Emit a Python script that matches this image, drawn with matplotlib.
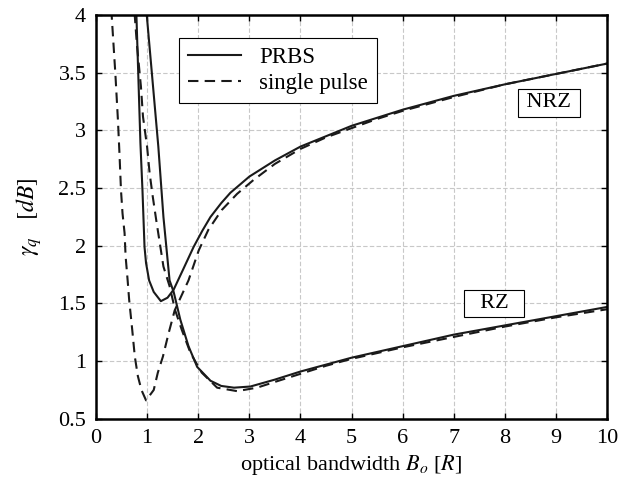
import numpy as np
import matplotlib
matplotlib.use("Agg")
import matplotlib.pyplot as plt

plt.rcParams['font.family'] = ['Liberation Serif', 'DejaVu Serif']
plt.rcParams['mathtext.fontset'] = 'stix'
plt.rcParams['font.size'] = 16

# NRZ, PRBS (solid)
nrz_prbs_b = [0.79, 0.87, 0.91, 0.95, 0.98, 1.04, 1.13, 1.27, 1.40, 1.52, 1.70, 1.91, 2.08, 2.24,
              2.45, 2.63, 3.0, 3.5, 4.0, 4.5, 5.0, 5.5, 6.0, 7.0, 7.5, 8.0, 9.0, 10.0]
nrz_prbs_g = [4.02, 2.89, 2.48, 1.99, 1.85, 1.70, 1.60, 1.52, 1.55, 1.62, 1.79, 1.99, 2.13, 2.25,
              2.37, 2.46, 2.60, 2.74, 2.86, 2.95, 3.04, 3.11, 3.18, 3.30, 3.35, 3.40, 3.49, 3.58]

# NRZ, single pulse (dashed)
nrz_sp_b = [0.30, 0.38, 0.43, 0.46, 0.49, 0.52, 0.56, 0.58, 0.62, 0.65, 0.71, 0.76, 0.82, 0.89,
            0.98, 1.13, 1.21, 1.31, 1.42, 1.54, 1.81, 2.01, 2.20, 2.46, 2.76, 3.08, 3.5, 4.0,
            4.5, 5.0, 5.5, 6.0, 7.0, 8.0, 9.0, 10.0]
nrz_sp_g = [4.05, 3.49, 3.09, 2.80, 2.48, 2.28, 2.11, 1.91, 1.70, 1.53, 1.27, 1.04, 0.87, 0.75,
            0.66, 0.75, 0.90, 1.04, 1.24, 1.44, 1.70, 1.96, 2.14, 2.31, 2.45, 2.57, 2.71, 2.84,
            2.94, 3.02, 3.10, 3.17, 3.29, 3.40, 3.49, 3.58]

# RZ, PRBS (solid)
rz_prbs_b = [0.99, 1.22, 1.32, 1.44, 1.52, 1.65, 1.81, 1.98, 2.24, 2.45, 2.70, 3.02, 3.5, 4.0,
             4.5, 5.0, 5.5, 6.0, 6.5, 7.0, 8.0, 9.0, 10.0]
rz_prbs_g = [4.02, 2.86, 2.25, 1.70, 1.60, 1.36, 1.13, 0.95, 0.83, 0.785, 0.77, 0.78, 0.84, 0.91,
             0.97, 1.03, 1.08, 1.13, 1.18, 1.23, 1.31, 1.39, 1.47]

# RZ, single pulse (dashed)
rz_sp_b = [0.755, 0.80, 0.88, 0.92, 1.00, 1.05, 1.11, 1.18, 1.25, 1.32, 1.44, 1.55, 1.68, 1.85,
           2.07, 2.37, 2.76, 3.15, 3.5, 4.0, 4.5, 5.0, 5.5, 6.0, 7.0, 8.0, 9.0, 10.0]
rz_sp_g = [4.02, 3.75, 3.38, 3.12, 2.86, 2.63, 2.43, 2.22, 2.02, 1.82, 1.65, 1.44, 1.27, 1.07,
           0.90, 0.77, 0.74, 0.77, 0.82, 0.89, 0.96, 1.02, 1.07, 1.12, 1.21, 1.30, 1.38, 1.45]

fig = plt.figure(figsize=(6.19, 4.87), dpi=100)
ax = fig.add_axes([0.155, 0.140, 0.826, 0.829])

lw = 1.5
dash = (0, (5, 3))
ax.plot(nrz_prbs_b, nrz_prbs_g, color='#1a1a1a', lw=lw, label='PRBS')
ax.plot(nrz_sp_b, nrz_sp_g, color='#1a1a1a', lw=lw, linestyle=dash, label='single pulse')
ax.plot(rz_prbs_b, rz_prbs_g, color='#1a1a1a', lw=lw)
ax.plot(rz_sp_b, rz_sp_g, color='#1a1a1a', lw=lw, linestyle=dash)

ax.set_xlim(0, 10)
ax.set_ylim(0.5, 4)
ax.set_xticks(range(0, 11))
ax.set_yticks([0.5, 1, 1.5, 2, 2.5, 3, 3.5, 4])
ax.set_yticklabels(['0.5', '1', '1.5', '2', '2.5', '3', '3.5', '4'])
ax.grid(True, color='#c8c8c8', linestyle=(0, (4, 2)), lw=0.8)
ax.tick_params(direction='in', length=4, width=1, top=True, right=True, labelsize=16, pad=7)
for s in ax.spines.values():
    s.set_linewidth(1.8)

ax.set_xlabel(r'optical bandwidth $B_o$ [$R$]', fontsize=16, labelpad=4)
ax.set_ylabel(r'$\gamma_q$   $[dB]$', fontsize=17, labelpad=10)

box = dict(boxstyle='square,pad=0.2', facecolor='white', edgecolor='black', lw=0.8)
ax.text(8.86, 3.24, '\u2009NRZ\u2009', ha='center', va='center', fontsize=16, bbox=box)
ax.text(7.79, 1.50, '  RZ  ', ha='center', va='center', fontsize=16, bbox=box)

leg = ax.legend(loc='upper left', bbox_to_anchor=(0.163, 0.943), borderaxespad=0,
                fancybox=False, framealpha=1, edgecolor='black', handlelength=2.3,
                fontsize=16.5, borderpad=0.4, labelspacing=0.2)
leg.get_frame().set_linewidth(0.8)

fig.savefig('out.png', dpi=100)
